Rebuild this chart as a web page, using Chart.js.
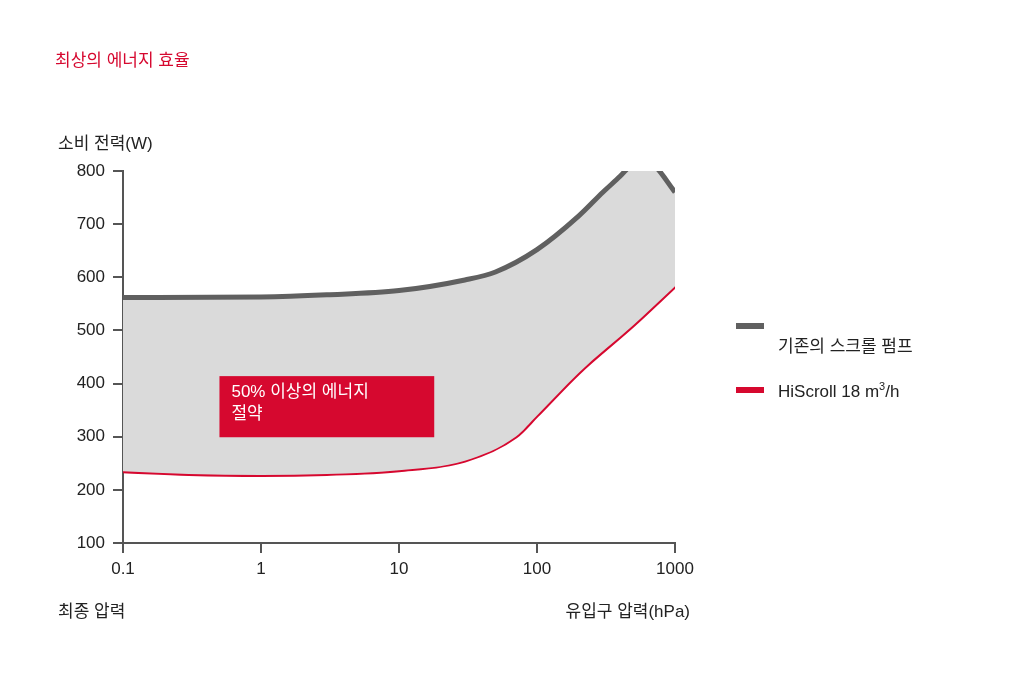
<!DOCTYPE html>
<html><head><meta charset="utf-8">
<script src="https://cdn.jsdelivr.net/npm/chart.js@4"></script>
<style>
body{margin:0;background:#fff;font-family:"Liberation Sans","Noto Sans CJK KR",sans-serif;}
#wrap{position:relative;width:1013px;height:675px;}
.t{position:absolute;font-size:17px;color:#222;white-space:nowrap;}
.lg{position:absolute;width:28px;height:6px;}
</style></head><body>
<div id="wrap">
<canvas id="c" width="1013" height="675"></canvas>
<div class="t" style="left:55px;top:46px;color:#d6082f;">최상의 에너지 효율</div>
<div class="t" style="left:58px;top:129px;">소비 전력(W)</div>
<div class="t" style="left:58px;top:597px;">최종 압력</div>
<div class="t" style="right:323px;top:597px;">유입구 압력(hPa)</div>
<div class="lg" style="left:736px;top:323px;background:#606060;"></div>
<div class="t" style="left:778px;top:332px;">기존의 스크롤 펌프</div>
<div class="lg" style="left:736px;top:387px;background:#d6082f;"></div>
<div class="t" style="left:778px;top:380px;">HiScroll 18 m<sup style="font-size:11px">3</sup>/h</div>
</div>
<script>
const oldPressure = [0.1, 1, 3, 10, 30, 50, 100, 200, 300, 400, 500, 600, 700, 1000];
const oldPower = [562, 563, 567, 575, 595, 610, 652, 715, 760, 790, 815, 820, 812, 760];
const newPressure = [0.1, 0.3, 1, 3, 10, 30, 70, 100, 200, 500, 1000];
const newPower = [235, 230, 228, 230, 237, 255, 300, 340, 420, 510, 583];
const xTicks = [0.1, 1, 10, 100, 1000];
const boxText = ['50% 이상의 에너지', '절약'];

const boxPlugin = {
    id: 'box',
    afterDatasetsDraw(chart) {
        const c = chart.ctx, x = chart.scales.x, y = chart.scales.y;
        const l = x.getPixelForValue(0.5), r = x.getPixelForValue(18);
        const t = y.getPixelForValue(414), b = y.getPixelForValue(299);
        c.save();
        c.fillStyle = '#d6082f';
        c.fillRect(l, t, r - l, b - t);
        c.fillStyle = '#fff';
        c.font = '17px "Liberation Sans","Noto Sans CJK KR"';
        c.textBaseline = 'top';
        c.fillText(boxText[0], l + 12, t + 8);
        c.fillText(boxText[1], l + 12, t + 30);
        c.restore();
    }
};

new Chart(document.getElementById('c'), {
    type: 'line',
    data: {
        datasets: [
            {
                data: oldPressure.map((p, i) => ({x: p, y: oldPower[i]})),
                borderColor: '#606060',
                borderWidth: 5,
                backgroundColor: '#dadada',
                fill: '+1',
                pointRadius: 0,
                cubicInterpolationMode: 'monotone'
            },
            {
                data: newPressure.map((p, i) => ({x: p, y: newPower[i]})),
                borderColor: '#d6082f',
                borderWidth: 4,
                pointRadius: 0,
                cubicInterpolationMode: 'monotone'
            }
        ]
    },
    options: {
        responsive: false,
        animation: false,
        layout: {padding: {left: 0, top: 171, right: 338, bottom: 0}},
        plugins: {legend: {display: false}, tooltip: {enabled: false}},
        scales: {
            x: {
                type: 'logarithmic', min: 0.1, max: 1000,
                afterBuildTicks: s => { s.ticks = xTicks.map(v => ({value: v})); },
                afterFit: s => { s.height = 132; },
                ticks: {color: '#222', font: {size: 17, family: 'Liberation Sans'}, padding: 6,
                    callback: v => String(v), maxRotation: 0},
                grid: {drawOnChartArea: false, tickLength: 10, color: '#555', lineWidth: 2},
                border: {color: '#555', width: 2}
            },
            y: {
                min: 100, max: 800,
                afterFit: s => { s.width = 123; },
                ticks: {stepSize: 100, color: '#222', font: {size: 17, family: 'Liberation Sans'}, padding: 8},
                grid: {drawOnChartArea: false, tickLength: 10, color: '#555', lineWidth: 2},
                border: {color: '#555', width: 2}
            }
        }
    },
    plugins: [boxPlugin]
});
</script>
</body></html>
